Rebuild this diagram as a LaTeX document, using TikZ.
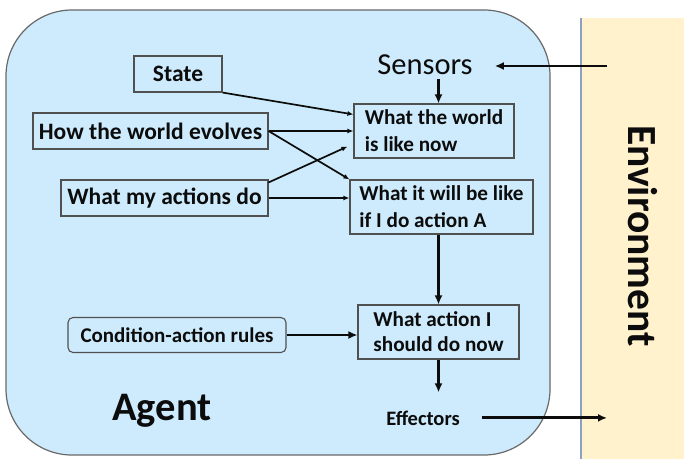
\documentclass[tikz,border=0pt]{standalone}
\usepackage{fontspec}
\setmainfont{Carlito}
\usetikzlibrary{arrows.meta,calc}
\definecolor{agentfill}{RGB}{205,235,252}
\definecolor{agentline}{RGB}{105,105,105}
\definecolor{envfill}{RGB}{255,242,204}
\definecolor{envline}{RGB}{140,160,196}
\definecolor{boxline}{RGB}{80,80,80}
\definecolor{ink}{RGB}{12,12,12}
\begin{document}
\begin{tikzpicture}[x=1pt,y=-1pt,
  box/.style={draw=boxline, line width=1.1pt, inner sep=0pt, text=ink},
  bigtext/.style={font=\bfseries\fontsize{23.5}{26}\selectfont},
  midtext/.style={font=\bfseries\fontsize{21.2}{27}\selectfont, align=left},
  lbl/.style={inner sep=0pt, text=ink},
  flow/.style={-{Latex[length=6pt,width=5pt]}, line width=1.7pt, draw=ink},
  bigflow/.style={-{Latex[length=9pt,width=8pt]}, line width=2.8pt, draw=ink}]

\useasboundingbox[fill=white] (0,0) rectangle (684,459);

% environment panel
\fill[envfill] (581,18) rectangle (684,459);
\draw[envline, line width=1.2pt] (581,18) -- (581,459);
\node[lbl, font=\bfseries\fontsize{41.5}{44}\selectfont, rotate=-90] (env) at (643,236) {Environment};

% agent body
\draw[agentline, fill=agentfill, line width=1.2pt, rounded corners=66pt] (6,10) rectangle (550,455);

% knowledge boxes
\node[box, bigtext, minimum width=88pt, minimum height=36pt] (state) at (178,74) {State};
\node[box, bigtext, minimum width=235pt, minimum height=36pt] (how) at (150.5,131) {How the world evolves};
\node[box, bigtext, minimum width=207pt, minimum height=36pt] (acts) at (164.5,198) {What my actions do};
\node[box, midtext, minimum width=218pt, minimum height=35pt, rounded corners=5pt,
      font=\bfseries\fontsize{21}{24}\selectfont] (cond) at (177,335) {Condition-action rules};

% inference boxes
\node[box, midtext, minimum width=160pt, minimum height=54pt] (now) at (434,131) {What the world\\is like now};
\node[box, midtext, minimum width=183pt, minimum height=54pt] (will) at (441.5,207) {What it will be like\\if I do action A};
\node[box, midtext, minimum width=161pt, minimum height=54pt,
      font=\bfseries\fontsize{21.2}{25}\selectfont] (act) at (438.5,332) {What action I\\should do now};

% labels
\node[lbl, font=\fontsize{30.5}{33}\selectfont, anchor=base] (sensors) at (425,74) {Sensors};
\node[lbl, font=\bfseries\fontsize{20.5}{24}\selectfont, anchor=base] (eff) at (423,425) {Effectors};
\node[lbl, font=\bfseries\fontsize{40.5}{44}\selectfont, anchor=base] (agent) at (162,420) {Agent};

% free ends on the environment side
\coordinate (envin) at (607,66);
\coordinate (envout) at (607,418);

% connectors
\draw[bigflow] (envin) -- ([xshift=22pt]sensors.east |- envin);
\draw[bigflow] ([yshift=-5pt]sensors.south -| act.north) -- (now.north -| act.north);
\draw[flow] (state.south east) -- ([yshift=-11pt]now.north west);
\draw[flow] (how.east) -- (now.west);
\draw[flow] (how.east) -- (will.north west);
\draw[flow] ([yshift=-3pt]acts.north east) -- ([xshift=-6pt,yshift=12pt]now.south west);
\draw[flow] (acts.east) -- (acts.east -| will.west);
\draw[bigflow] (will.south -| act.north) -- (act.north);
\draw[bigflow] (cond.east) -- (cond.east -| act.west);
\draw[bigflow] (act.south) -- ([yshift=18pt]eff.north -| act.south);
\draw[bigflow] ([xshift=22pt]eff.east) -- (eff.east -| envout);
\end{tikzpicture}
\end{document}
